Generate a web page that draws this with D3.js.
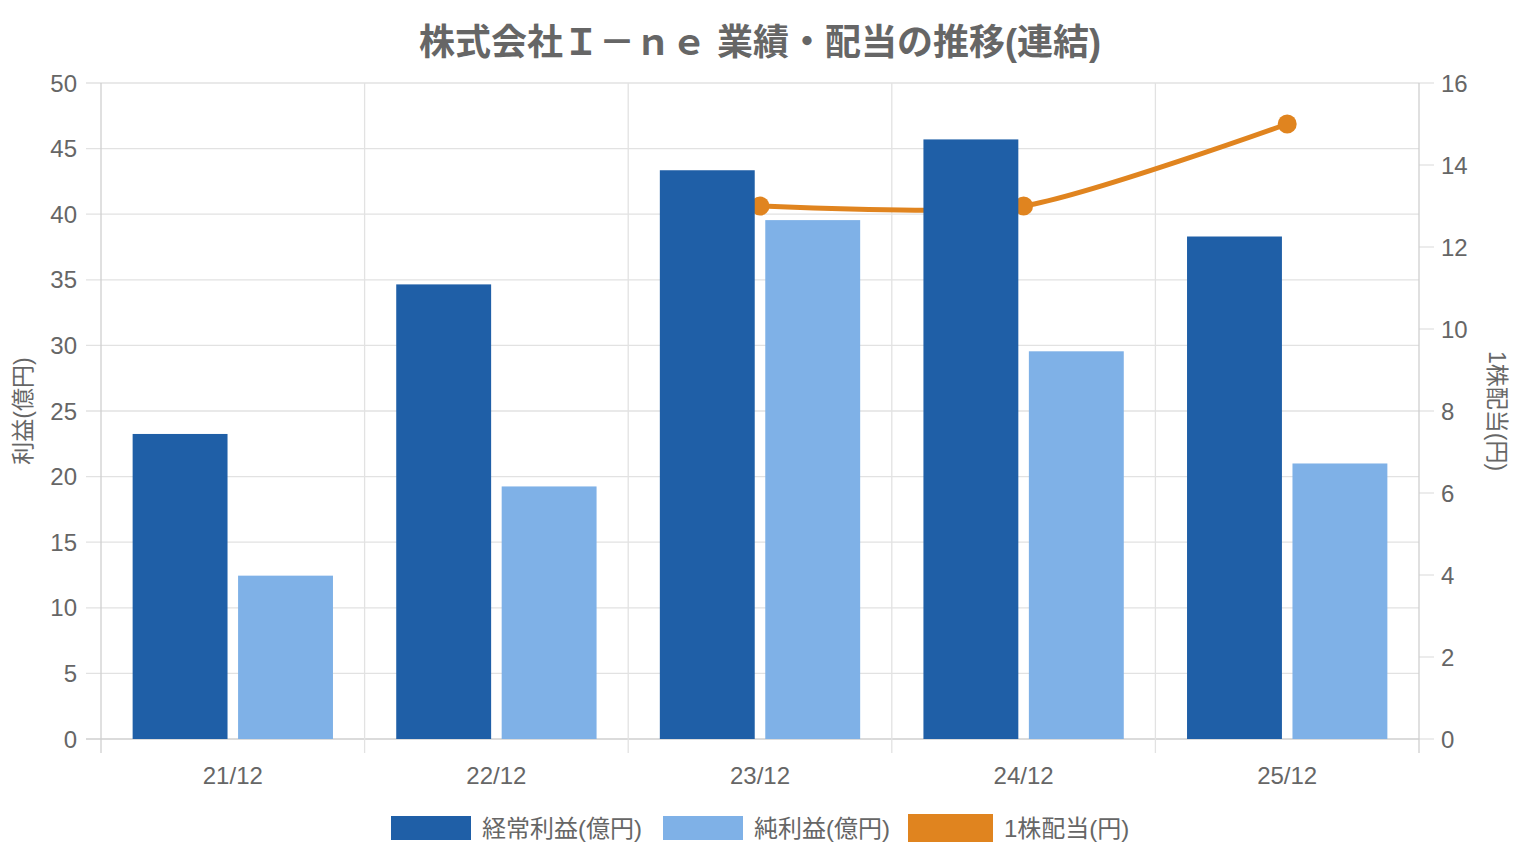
<!DOCTYPE html>
<html>
<head>
<meta charset="utf-8">
<script src="https://cdn.jsdelivr.net/npm/d3@7"></script>
<style>
  body { margin: 0; background: #fff; }
  svg text { font-family: "Liberation Sans", "Noto Sans CJK JP", sans-serif; fill: #666; }
</style>
</head>
<body>
<div id="chart"></div>
<script>
const categories = ['21/12', '22/12', '23/12', '24/12', '25/12']
const ordinaryProfit = [23.25, 34.65, 43.35, 45.7, 38.3]
const netProfit = [12.45, 19.25, 39.55, 29.55, 21.0]
const dividend = [null, null, 13, 13, 15]
const leftTicks = [0, 5, 10, 15, 20, 25, 30, 35, 40, 45, 50]
const rightTicks = [0, 2, 4, 6, 8, 10, 12, 14, 16]

const colors = { ordinary: '#1f5fa7', net: '#7fb1e7', dividend: '#e0841f' }
const W = 1520, H = 860
const m = { left: 101, right: 101, top: 83, bottom: 121 }

const svg = d3.select('#chart').append('svg')
    .attr('width', W)
    .attr('height', H)

const x = d3.scaleBand().domain(categories).range([m.left, W - m.right])
const inner = d3.scaleBand().domain(['ordinary', 'net'])
    .range([x.bandwidth() * 0.1, x.bandwidth() * 0.9])
    .paddingInner(0.1).paddingOuter(0.05)
const yL = d3.scaleLinear().domain([0, 50]).range([H - m.bottom, m.top])
const yR = d3.scaleLinear().domain([0, 16]).range([H - m.bottom, m.top])

// grid
const grid = svg.append('g')
grid.selectAll('line.h').data(leftTicks).enter().append('line')
    .attr('x1', m.left - 15).attr('x2', W - m.right)
    .attr('y1', d => yL(d)).attr('y2', d => yL(d))
    .attr('stroke', d => d === 0 ? '#cfcfcf' : '#e2e2e2').attr('stroke-width', 1.3)
grid.selectAll('line.rt').data(rightTicks).enter().append('line')
    .attr('x1', W - m.right).attr('x2', W - m.right + 15)
    .attr('y1', d => yR(d)).attr('y2', d => yR(d))
    .attr('stroke', '#e2e2e2').attr('stroke-width', 1.3)
const bounds = categories.map(c => x(c)).concat([x(categories[4]) + x.bandwidth()])
grid.selectAll('line.v').data(bounds).enter().append('line')
    .attr('x1', d => d).attr('x2', d => d)
    .attr('y1', m.top).attr('y2', H - m.bottom + 14)
    .attr('stroke', (d, i) => (i === 0 || i === bounds.length - 1) ? '#cfcfcf' : '#e2e2e2')
    .attr('stroke-width', 1.3)

// dividend line (drawn under the bars)
const pts = categories.map((c, i) => ({ c, v: dividend[i] })).filter(d => d.v != null)
const line = d3.line()
    .x(d => x(d.c) + x.bandwidth() / 2)
    .y(d => yR(d.v))
    .curve(d3.curveCardinal.tension(0.3))
svg.append('path').datum(pts)
    .attr('d', line)
    .attr('fill', 'none')
    .attr('stroke', colors.dividend)
    .attr('stroke-width', 5)
svg.selectAll('circle').data(pts).enter().append('circle')
    .attr('cx', d => x(d.c) + x.bandwidth() / 2)
    .attr('cy', d => yR(d.v))
    .attr('r', 9.5)
    .attr('fill', colors.dividend)

// bars
const rows = categories.map((c, i) => ({ c, ordinary: ordinaryProfit[i], net: netProfit[i] }))
const groups = svg.selectAll('g.bar').data(rows).enter().append('g')
    .attr('transform', d => `translate(${x(d.c)},0)`)
groups.selectAll('rect').data(d => ['ordinary', 'net'].map(k => ({ k, v: d[k] }))).enter()
    .append('rect')
    .attr('x', d => inner(d.k))
    .attr('width', inner.bandwidth())
    .attr('y', d => yL(d.v))
    .attr('height', d => yL(0) - yL(d.v))
    .attr('fill', d => colors[d.k])

// axis labels
svg.append('g').selectAll('text').data(leftTicks).enter().append('text')
    .attr('x', 77).attr('y', d => yL(d) + 8.5)
    .attr('text-anchor', 'end').attr('font-size', 24)
    .text(d => d)
svg.append('g').selectAll('text').data(rightTicks).enter().append('text')
    .attr('x', 1441).attr('y', d => yR(d) + 8.5)
    .attr('font-size', 24)
    .text(d => d)
svg.append('g').selectAll('text').data(categories).enter().append('text')
    .attr('x', d => x(d) + x.bandwidth() / 2).attr('y', 784)
    .attr('text-anchor', 'middle').attr('font-size', 24)
    .text(d => d)

svg.append('text')
    .attr('transform', `translate(31,${(m.top + H - m.bottom) / 2}) rotate(-90)`)
    .attr('text-anchor', 'middle').attr('font-size', 23)
    .text('利益(億円)')
svg.append('text')
    .attr('transform', `translate(1489,${(m.top + H - m.bottom) / 2}) rotate(90)`)
    .attr('text-anchor', 'middle').attr('font-size', 23)
    .text('1株配当(円)')

// title
svg.append('text')
    .attr('x', 760).attr('y', 55)
    .attr('text-anchor', 'middle').attr('font-size', 36).attr('font-weight', 'bold')
    .text('株式会社Ｉ－ｎｅ 業績・配当の推移(連結)')

// legend
const legend = [
    { label: '経常利益(億円)', color: colors.ordinary, x: 391, w: 80, h: 24 },
    { label: '純利益(億円)', color: colors.net, x: 663, w: 80, h: 24 },
    { label: '1株配当(円)', color: colors.dividend, x: 908, w: 85, h: 28 }
]
const lg = svg.append('g').selectAll('g').data(legend).enter().append('g')
lg.append('rect')
    .attr('x', d => d.x).attr('y', d => 828 - d.h / 2)
    .attr('width', d => d.w).attr('height', d => d.h)
    .attr('fill', d => d.color)
lg.append('text')
    .attr('x', d => d.x + d.w + 11).attr('y', 837)
    .attr('font-size', 24)
    .text(d => d.label)
</script>
</body>
</html>
